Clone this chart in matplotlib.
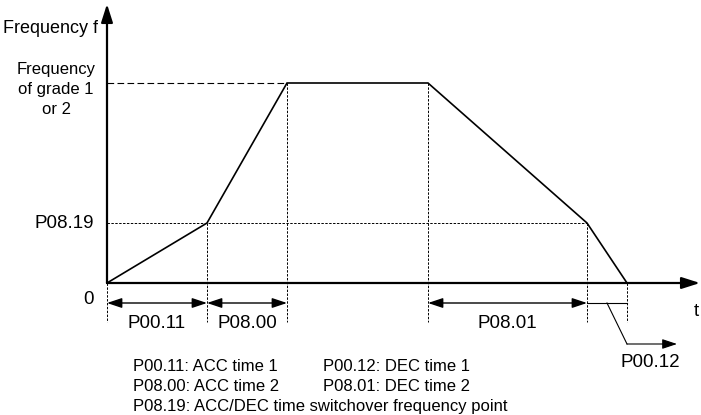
import matplotlib.pyplot as plt
from matplotlib.patches import FancyArrowPatch

plt.rcParams['font.family'] = ['Liberation Sans', 'DejaVu Sans']

# ====================================
# data (time / frequency of the knee points)
# ====================================
t_pts = [0, 100, 180, 321, 480, 520]
f_pts = [0, 60, 200, 200, 60, 0]
f_switch = 60      # P08.19
f_grade = 200      # frequency of grade 1 or 2

# spans shown with double arrows under the time axis
spans = [(0, 100, 'P00.11'), (100, 180, 'P08.00'), (321, 480, 'P08.01')]
span_dec1 = (480, 520, 'P00.12')

grade_label = ['Frequency', 'of grade 1', 'or 2']
legend_left = ['P00.11: ACC time 1', 'P08.00: ACC time 2',
               'P08.19: ACC/DEC time switchover frequency point']
legend_right = ['P00.12: DEC time 1', 'P08.01: DEC time 2']

# ====================================
# plot
# ====================================
fig = plt.figure(figsize=(7.01, 4.15), dpi=100)
ax = fig.add_axes([0, 0, 1, 1])
ax.set_xlim(-107, 594)
ax.set_ylim(-132, 283)
ax.axis('off')

fs_lab = 13.5
fs_leg = 12
y_arr = -20
y_dash_end = -39


def arrow(p0, p1, style, hl=9, hw=3, lw=1.0):
    a = FancyArrowPatch(p0, p1, arrowstyle=f'{style},head_length={hl},head_width={hw}',
                        mutation_scale=1, shrinkA=0, shrinkB=0, color='k', lw=lw)
    ax.add_patch(a)


# axes
arrow((0, 0), (0, 279), '-|>', hl=11, hw=3.5, lw=1.6)
arrow((0, 0), (593, 0), '-|>', hl=11, hw=3.5, lw=1.6)

# curve
ax.plot(t_pts, f_pts, color='k', lw=1.2, solid_joinstyle='miter')

# guide lines
ax.plot([0, t_pts[2]], [f_grade, f_grade], color='k', lw=0.8, dashes=(6, 3))
ax.plot([0, t_pts[4]], [f_switch, f_switch], color='k', lw=0.7, dashes=(2.5, 1.5))
for t, f in zip(t_pts, f_pts):
    ax.plot([t, t], [f, y_dash_end], color='k', lw=0.7, dashes=(2.5, 1.5))

# double arrows
for t0, t1, lab in spans:
    arrow((t0, y_arr), (t1, y_arr), '<|-|>', hl=9, hw=3, lw=1.0)
    ax.text((t0 + t1) / 2, -40, lab, ha='center', va='center', fontsize=fs_lab)

# DEC time 1 span with leader
t0, t1, lab = span_dec1
ax.plot([t0, t1], [y_arr, y_arr], color='k', lw=0.8)
ax.plot([500, 520], [y_arr, -61], color='k', lw=0.8)
arrow((520, -61), (570, -61), '-|>', hl=9, hw=3, lw=0.8)
ax.text(543, -79, lab, ha='center', va='center', fontsize=fs_lab)

# axis labels
ax.text(-104, 250, 'Frequency f', ha='left', va='baseline', fontsize=13)
for i, s in enumerate(grade_label):
    ax.text(-51, 209 - 20 * i, s, ha='center', va='baseline', fontsize=12)
ax.text(-13, f_switch - 1, 'P08.19', ha='right', va='center', fontsize=fs_lab)
ax.text(-13, -16, '0', ha='right', va='center', fontsize=fs_lab)
ax.text(589, -28, 't', ha='center', va='center', fontsize=fs_lab)

# legend text
for i, s in enumerate(legend_left):
    ax.text(26, -83 - 20 * i, s, ha='left', va='center', fontsize=fs_leg)
for i, s in enumerate(legend_right):
    ax.text(216, -83 - 20 * i, s, ha='left', va='center', fontsize=fs_leg)

plt.savefig('out.png', dpi=100)
